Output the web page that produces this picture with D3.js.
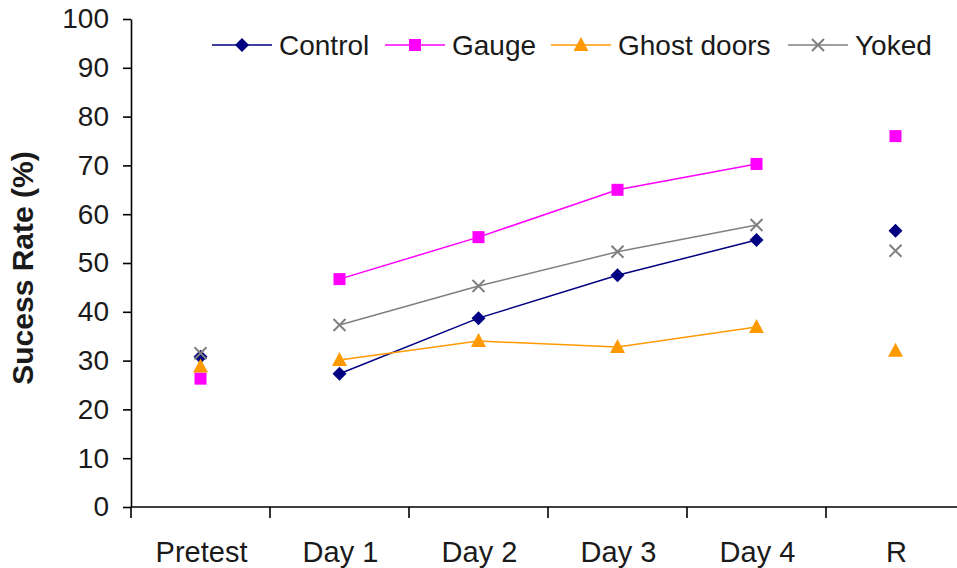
<!DOCTYPE html>
<html>
<head>
<meta charset="utf-8">
<script src="https://cdn.jsdelivr.net/npm/d3@7/dist/d3.min.js"></script>
<style>
  html, body { margin: 0; padding: 0; background: #fff; }
  svg { display: block; font-family: "Liberation Sans", Arial, sans-serif; }
</style>
</head>
<body>
<svg id="chart" width="957" height="568"></svg>
<script>
// Session categories along the x axis
const categories = ["Pretest", "Day 1", "Day 2", "Day 3", "Day 4", "R"];

// Success rates (%) per group, one value per session
const control    = [30.8, 27.3, 38.7, 47.5, 54.7, 56.6];
const gauge      = [26.3, 46.7, 55.3, 65.0, 70.3, 76.0];
const ghostDoors = [28.8, 30.1, 34.0, 32.8, 36.9, 32.0];
const yoked      = [31.5, 37.3, 45.3, 52.3, 57.8, 52.5];

// Sessions joined by a line (the training days)
const connected = ["Day 1", "Day 2", "Day 3", "Day 4"];

const yTicks = [0, 10, 20, 30, 40, 50, 60, 70, 80, 90, 100];

const series = [
  { name: "Control",     values: control,    color: "#000080", symbol: "diamond" },
  { name: "Gauge",       values: gauge,      color: "#FF00FF", symbol: "square" },
  { name: "Ghost doors", values: ghostDoors, color: "#FF9900", symbol: "triangle" },
  { name: "Yoked",       values: yoked,      color: "#808080", symbol: "cross" }
];

const svg = d3.select("#chart");
const plotLeft = 131, plotTop = 19, plotBottom = 507;
const bandW = 139;

const x = d3.scaleBand().domain(categories).range([plotLeft, plotLeft + bandW * categories.length]).padding(0);
const y = d3.scaleLinear().domain([0, 100]).range([plotBottom, plotTop]);
const cx = c => x(c) + x.bandwidth() / 2;

// Y axis
const yAxis = svg.append("g")
  .attr("transform", `translate(${plotLeft},0)`)
  .call(d3.axisLeft(y).tickValues(yTicks).tickSize(8).tickPadding(14).tickSizeOuter(0));
yAxis.select(".domain").attr("stroke", "#000").attr("stroke-width", 1.6);
yAxis.selectAll(".tick line").attr("stroke", "#000").attr("stroke-width", 1.6);
yAxis.selectAll(".tick text").attr("font-size", 28).attr("fill", "#1a1a1a")
  .attr("font-family", "'Liberation Sans', Arial, sans-serif");

// X axis with ticks between categories
const xEdges = categories.map(c => x(c)).concat([x(categories[categories.length - 1]) + x.bandwidth()]);
const xAxis = svg.append("g").attr("class", "xaxis");
xAxis.append("line")
  .attr("x1", plotLeft).attr("x2", xEdges[xEdges.length - 1])
  .attr("y1", y(0)).attr("y2", y(0))
  .attr("stroke", "#000").attr("stroke-width", 1.6);
xAxis.selectAll("line.tick").data(xEdges).join("line")
  .attr("class", "tick")
  .attr("x1", d => d).attr("x2", d => d)
  .attr("y1", y(0)).attr("y2", y(0) + 11)
  .attr("stroke", "#000").attr("stroke-width", 1.6);
xAxis.selectAll("text").data(categories).join("text")
  .attr("x", d => cx(d) + 1).attr("y", 562)
  .attr("text-anchor", "middle")
  .attr("font-size", 29).attr("fill", "#1a1a1a")
  .text(d => d);

// Y axis title
svg.append("text")
  .attr("transform", `translate(33,${(plotTop + plotBottom) / 2 + 5}) rotate(-90)`)
  .attr("text-anchor", "middle")
  .attr("font-size", 30).attr("font-weight", "bold").attr("fill", "#1a1a1a")
  .text("Sucess Rate (%)");

// Marker shapes
function drawMarker(g, kind, color) {
  if (kind === "diamond") {
    g.append("path").attr("d", "M0,-7L7,0L0,7L-7,0Z").attr("fill", color);
  } else if (kind === "square") {
    g.append("rect").attr("x", -6).attr("y", -6).attr("width", 12).attr("height", 12).attr("fill", color);
  } else if (kind === "triangle") {
    g.append("path").attr("d", "M0,-8L7.5,6L-7.5,6Z").attr("fill", color);
  } else {
    g.append("path").attr("d", "M-6,-6L6,6M6,-6L-6,6")
      .attr("stroke", color).attr("stroke-width", 2).attr("fill", "none");
  }
}

const line = d3.line().x(d => cx(d.c)).y(d => y(d.v));

series.forEach(s => {
  const pts = categories.map((c, i) => ({ c, v: s.values[i] }));
  svg.append("path")
    .datum(pts.filter(p => connected.includes(p.c)))
    .attr("d", line)
    .attr("fill", "none").attr("stroke", s.color).attr("stroke-width", 1.5);
  const mk = svg.append("g");
  pts.forEach(p => {
    const g = mk.append("g").attr("transform", `translate(${cx(p.c)},${y(p.v)})`);
    drawMarker(g, s.symbol, s.color);
  });
});

// Legend
const legendStarts = [212, 385, 551, 788];
series.forEach((s, i) => {
  const g = svg.append("g").attr("transform", `translate(${legendStarts[i]},45)`);
  g.append("line").attr("x1", 0).attr("x2", 60).attr("y1", 0).attr("y2", 0)
    .attr("stroke", s.color).attr("stroke-width", 1.5);
  drawMarker(g.append("g").attr("transform", "translate(30,0)"), s.symbol, s.color);
  g.append("text").attr("x", 67).attr("y", 10)
    .attr("font-size", 28).attr("fill", "#1a1a1a").text(s.name);
});
</script>
</body>
</html>
